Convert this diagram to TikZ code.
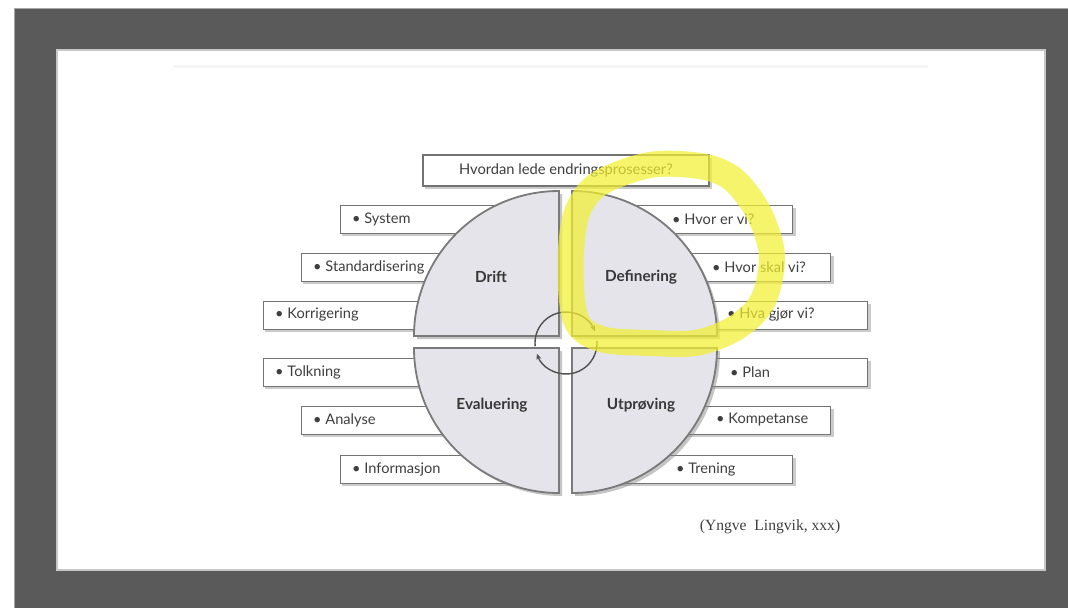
\documentclass[tikz,border=0pt]{standalone}
\usepackage{fontspec}
\setmainfont{Lato}
\newfontfamily\citefont{Liberation Serif}
\usetikzlibrary{arrows.meta}
\definecolor{darkbg}{RGB}{90,90,90}
\definecolor{quadfill}{RGB}{228,228,234}
\definecolor{hlyellow}{RGB}{242,240,50}
\definecolor{txtgray}{RGB}{62,62,62}
\tikzset{
  itembox/.style={draw=black!55, line width=1.3pt, fill=white, inner sep=0pt},
  boxshade/.style={fill=black!45, opacity=0.45, draw=none},
  itemtext/.style={anchor=west, inner sep=0pt, text=txtgray, font=\fontsize{14.6}{16}\selectfont},
  quadlabel/.style={inner sep=0pt, text=black!78, font=\fontsize{15.3}{17}\selectfont\bfseries},
  quad/.style={draw=black!52, line width=1.8pt, fill=quadfill},
  quadshade/.style={fill=black!45, opacity=0.5, draw=none},
  cyc/.style={draw=black!68, line width=1.4pt},
  cyctip/.style={-{Stealth[length=6pt,width=5pt]}},
  hl/.style={draw=hlyellow, line width=26pt, opacity=0.72, line cap=round, line join=round}
}
\begin{document}
\begin{tikzpicture}[x=1pt,y=-1pt]
\useasboundingbox (0,0) rectangle (1068,608);
\fill[white] (0,0) rectangle (1068,608);
\fill[darkbg] (14,8) rectangle (1068,608);
\draw[black!35, line width=0.8pt] (14,8) -- (1068,8) (14,8) -- (14,608);
\draw[fill=white, draw=black!22, line width=1.6pt] (57,50) rectangle (1045,570);
\fill[black!4] (173,65) rectangle (928,68);
% side boxes: left
\foreach \x/\y/\t/\n in {340/205/System/l1, 301/253/Standardisering/l2, 263/301/Korrigering/l3,
                         263/358/Tolkning/l4, 301/406/Analyse/l5, 340/455/Informasjon/l6}{
  \fill[boxshade] (\x+2,\y+3) rectangle (522,\y+31);
  \node[itembox, anchor=north west, minimum width={520pt-\x pt}, minimum height=28pt] (\n) at (\x,\y) {};
  \node[itemtext] (t\n) at (\x+12,\y+14) {\textbullet\ \t};
}
% side boxes: right
\foreach \x/\y/\t/\s/\n in {793/205/{Hvor er vi?}/672/r1, 831/253/{Hvor skal vi?}/712/r2, 868/301/{Hva gjør vi?}/727/r3,
                            868/358/Plan/730/r4, 831/406/Kompetanse/716/r5, 793/455/Trening/676/r6}{
  \fill[boxshade] (612,\y+3) rectangle (\x+3,\y+31);
  \node[itembox, anchor=north east, minimum width={\x pt-610pt}, minimum height=28pt] (\n) at (\x,\y) {};
  \node[itemtext] (t\n) at (\s,\y+14) {\textbullet\ \t};
}
% top box
\fill[boxshade] (425,158) rectangle (712,189);
\node[itembox, minimum width=286pt, minimum height=31pt, text=txtgray, font=\fontsize{14.7}{16}\selectfont] (top) at (566,170.5) {Hvordan lede endringsprosesser?};
% quadrant shadows
\begin{scope}[shift={(3,3)}]
  \fill[quadshade] (559,336) -- (414,336) arc[start angle=180,end angle=90,radius=145pt] -- cycle;
  \fill[quadshade] (572,336) -- (572,191) arc[start angle=90,end angle=0,radius=145pt] -- cycle;
  \fill[quadshade] (559,348) -- (559,493) arc[start angle=270,end angle=180,radius=145pt] -- cycle;
  \fill[quadshade] (572,348) -- (717,348) arc[start angle=0,end angle=-90,radius=145pt] -- cycle;
\end{scope}
% quadrants
\path[quad] (559,336) -- (414,336) arc[start angle=180,end angle=90,radius=145pt] -- cycle;
\path[quad] (572,336) -- (572,191) arc[start angle=90,end angle=0,radius=145pt] -- cycle;
\path[quad] (559,348) -- (559,493) arc[start angle=270,end angle=180,radius=145pt] -- cycle;
\path[quad] (572,348) -- (717,348) arc[start angle=0,end angle=-90,radius=145pt] -- cycle;
\node[quadlabel] (drift) at (491,277) {Drift};
\node[quadlabel] (def) at (641,277) {Definering};
\node[quadlabel] (eval) at (492,405) {Evaluering};
\node[quadlabel] (utp) at (641,405) {Utprøving};
% cycle arrows
\coordinate (cc) at (566,343);
\draw[cyc, cyctip] ([shift={(186:31pt)}]cc) arc[start angle=186,end angle=22,radius=31pt];
\draw[cyc, cyctip] ([shift={(4:31pt)}]cc) arc[start angle=4,end angle=-160,radius=31pt];
% citation
\node[inner sep=0pt, text=black!75, font=\citefont\fontsize{15.6}{17}\selectfont] (cite) at (770,527) {(Yngve\ \ Lingvik, xxx)};
% yellow highlight
\draw[hl] plot[smooth cycle, tension=0.55] coordinates {(572,300) (571,250) (578,210) (600,183) (650,165) (700,166) (730,177) (751,200) (765,227) (772,257) (767,290) (755,312) (730,331) (695,343) (650,343) (605,340) (580,327)};
\end{tikzpicture}
\end{document}
